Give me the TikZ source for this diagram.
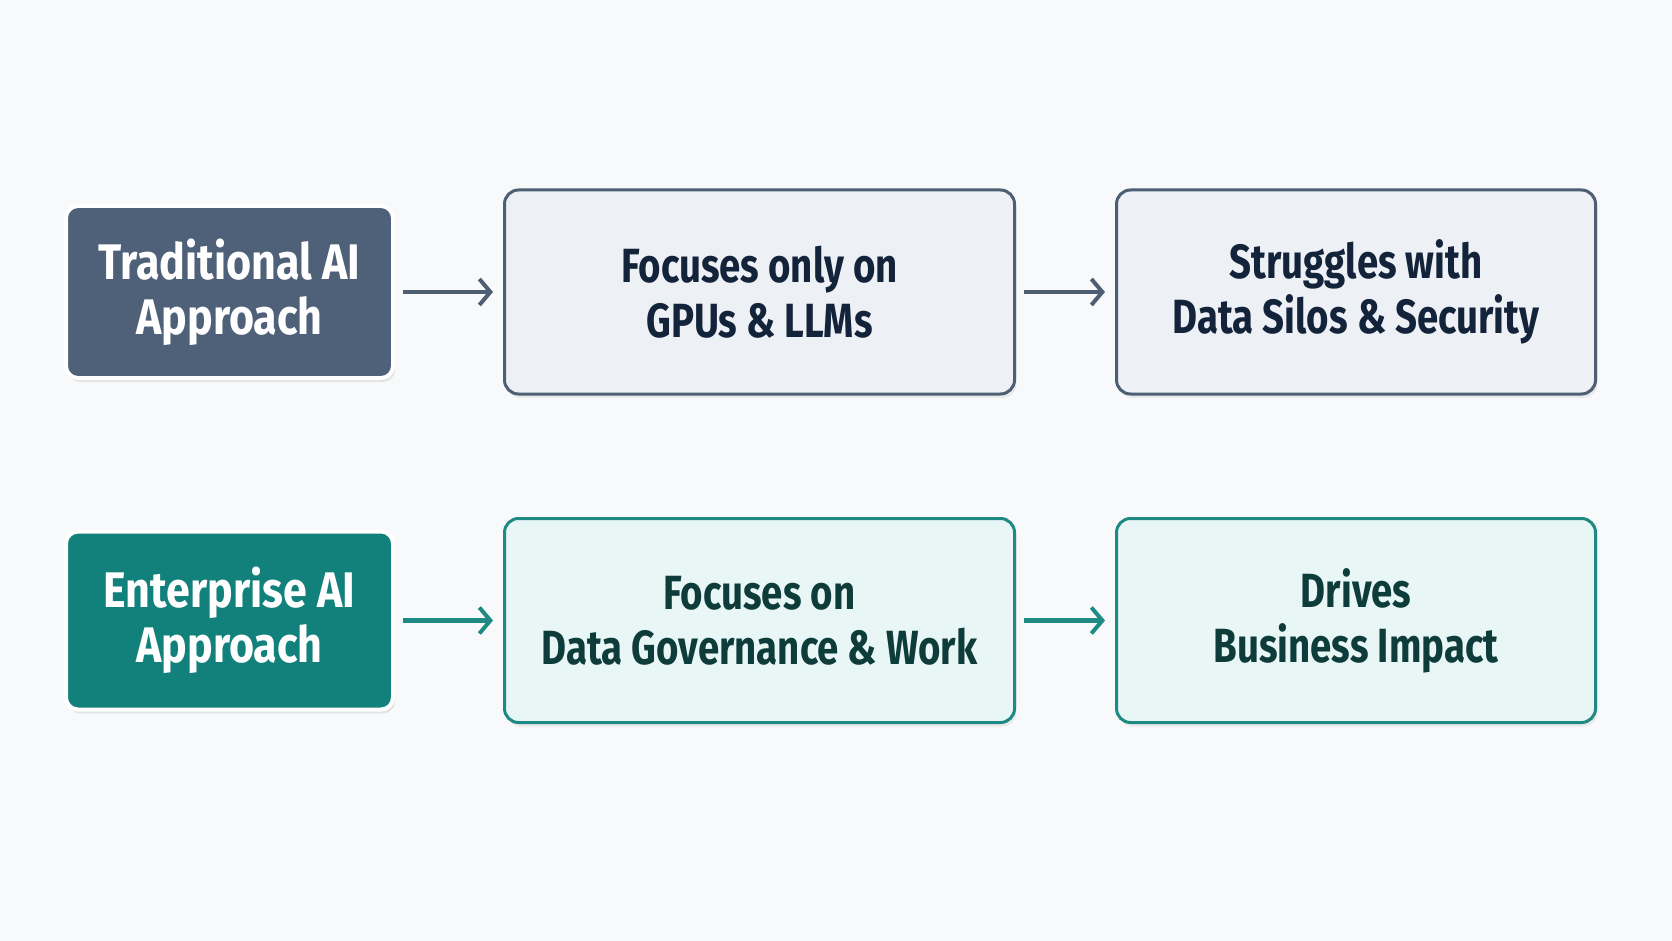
\documentclass[tikz,border=0pt]{standalone}
\usepackage{fontspec}
\setmainfont{Fira Sans}[UprightFont={* Bold}, FakeStretch=0.80]
\newfontfamily\widefont{Fira Sans}[UprightFont={* Bold}, FakeStretch=0.86]
\usetikzlibrary{positioning, arrows.meta, shadows}
\definecolor{slateDark}{HTML}{4F6079}
\definecolor{slateLine}{HTML}{4E5E73}
\definecolor{slateFill}{HTML}{EDF0F5}
\definecolor{slateText}{HTML}{13233A}
\definecolor{tealDark}{HTML}{13817B}
\definecolor{tealLine}{HTML}{1F8A84}
\definecolor{tealFill}{HTML}{E8F6F6}
\definecolor{tealText}{HTML}{0E3C3A}
\definecolor{pageBg}{HTML}{F8F9FA}
\tikzset{
    approach/.style={rectangle, rounded corners=12pt, draw=white, line width=4pt, text=white, align=center,
        minimum width=327pt, minimum height=172pt, font=\widefont\fontsize{50}{55}\selectfont,
        drop shadow={shadow xshift=2pt, shadow yshift=-4pt, opacity=0.18}},
    result/.style={rectangle, rounded corners=14pt, line width=3pt, align=center,
        minimum width=510pt, minimum height=204pt, font=\fontsize{48}{55}\selectfont,
        drop shadow={shadow xshift=2pt, shadow yshift=-4pt, opacity=0.12}},
    flow/.style={-{Straight Barb[length=11pt, width=26pt, line width=4pt]}, line width=4.5pt,
        shorten <=8pt, shorten >=10pt}
}

\begin{document}
\begin{tikzpicture}[x=1pt, y=1pt, node distance=111pt]

    \fill[pageBg] (0,0) rectangle (1672,-941);
    \useasboundingbox (0,0) rectangle (1672,-941);

    % 1. TRADITIONAL ROW
    \node[approach, fill=slateDark] (trad) at (229.5,-292) {Traditional AI\\Approach};
    \node[result, draw=slateLine, fill=slateFill, text=slateText] (gpus) [right=108pt of trad] {Focuses only on\\GPUs \& LLMs};
    \node[result, draw=slateLine, fill=slateFill, text=slateText, minimum width=479pt] (silos) [right=99pt of gpus] {Struggles with\\Data Silos \& Security};
    \draw[flow, slateLine] (trad) -- (gpus);
    \draw[flow, slateLine] (gpus) -- (silos);

    % 2. ENTERPRISE ROW
    \node[approach, fill=tealDark, minimum height=178pt] (ent) at (229.5,-620.5) {Enterprise AI\\Approach};
    \node[result, draw=tealLine, fill=tealFill, text=tealText] (gov) [right=108pt of ent] {Focuses on\\Data Governance \& Work};
    \node[result, draw=tealLine, fill=tealFill, text=tealText, minimum width=479pt] (impact) [right=99pt of gov] {Drives\\Business Impact};
    \draw[flow, tealLine] (ent) -- (gov);
    \draw[flow, tealLine] (gov) -- (impact);

\end{tikzpicture}
\end{document}
